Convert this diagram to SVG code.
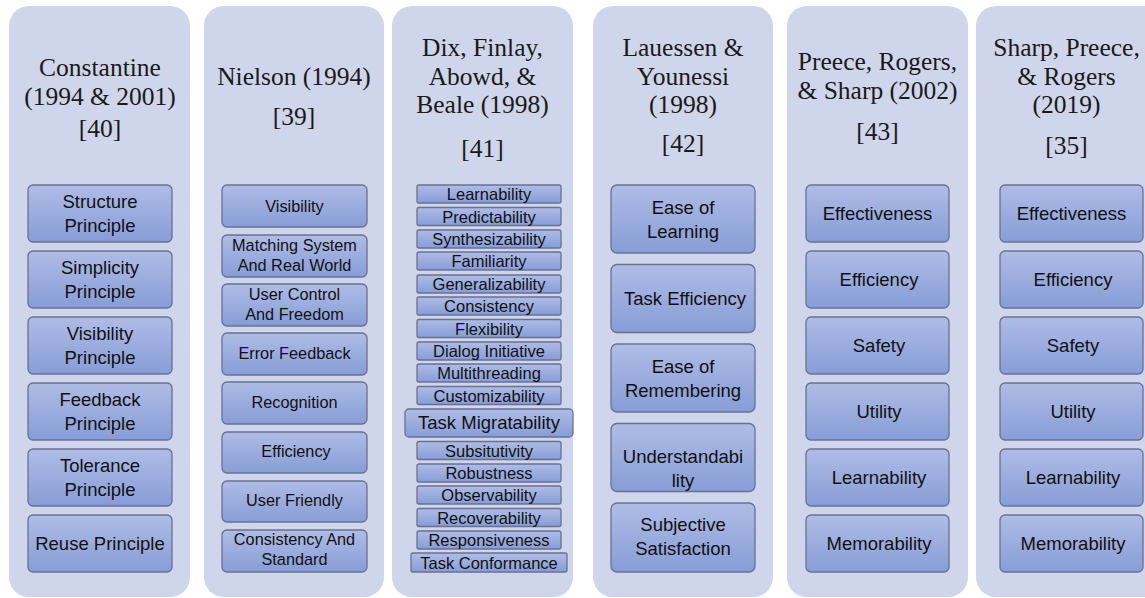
<svg xmlns="http://www.w3.org/2000/svg" width="1145" height="598" viewBox="0 0 1145 598">
<defs>
<linearGradient id="bx" x1="0" y1="0" x2="0" y2="1">
<stop offset="0" stop-color="#afbce5"/>
<stop offset="1" stop-color="#879dd7"/>
</linearGradient>
</defs>
<style>
.col{fill:#cfd5ea;}
.box{fill:url(#bx);stroke:#687192;stroke-width:1.3;}
.t{font-family:"Liberation Serif","DejaVu Serif",serif;font-size:25.5px;fill:#1a1a1a;text-anchor:middle;}
.b{font-family:"Liberation Sans","Noto Sans",sans-serif;font-size:18.5px;fill:#111;text-anchor:middle;}
.m{font-family:"Liberation Sans","Noto Sans",sans-serif;font-size:16.3px;fill:#111;text-anchor:middle;}
.s{font-family:"Liberation Sans","Noto Sans",sans-serif;font-size:16.5px;fill:#111;text-anchor:middle;}
</style>
<rect width="1145" height="598" fill="#ffffff"/>

<g id="col1">
<rect class="col" x="9" y="6" width="181" height="591" rx="20"/>
<text class="t" x="100" y="76">Constantine</text>
<text class="t" x="100" y="105">(1994 &amp; 2001)</text>
<text class="t" x="100" y="137">[40]</text>
<g id="c1n1"><rect class="box" x="28" y="185" width="144" height="57" rx="5"/><text class="b" x="100" y="208">Structure</text><text class="b" x="100" y="232">Principle</text></g>
<g id="c1n2"><rect class="box" x="28" y="251" width="144" height="57" rx="5"/><text class="b" x="100" y="274">Simplicity</text><text class="b" x="100" y="298">Principle</text></g>
<g id="c1n3"><rect class="box" x="28" y="317" width="144" height="57" rx="5"/><text class="b" x="100" y="340">Visibility</text><text class="b" x="100" y="364">Principle</text></g>
<g id="c1n4"><rect class="box" x="28" y="383" width="144" height="57" rx="5"/><text class="b" x="100" y="406">Feedback</text><text class="b" x="100" y="430">Principle</text></g>
<g id="c1n5"><rect class="box" x="28" y="449" width="144" height="57" rx="5"/><text class="b" x="100" y="472">Tolerance</text><text class="b" x="100" y="496">Principle</text></g>
<g id="c1n6"><rect class="box" x="28" y="515" width="144" height="57" rx="5"/><text class="b" x="100" y="550">Reuse Principle</text></g>
</g>

<g id="col2">
<rect class="col" x="204" y="6" width="180" height="591" rx="20"/>
<text class="t" x="294" y="85">Nielson (1994)</text>
<text class="t" x="294" y="125">[39]</text>
<g id="c2n1"><rect class="box" x="222" y="185" width="145" height="42" rx="5"/><text class="m" x="294.5" y="212">Visibility</text></g>
<g id="c2n2"><rect class="box" x="222" y="235" width="145" height="42" rx="5"/><text class="m" x="294.5" y="251">Matching System</text><text class="m" x="294.5" y="271">And Real World</text></g>
<g id="c2n3"><rect class="box" x="222" y="284" width="145" height="42" rx="5"/><text class="m" x="294.5" y="300">User Control</text><text class="m" x="294.5" y="320">And Freedom</text></g>
<g id="c2n4"><rect class="box" x="222" y="333" width="145" height="42" rx="5"/><text class="m" x="294.5" y="359">Error Feedback</text></g>
<g id="c2n5"><rect class="box" x="222" y="382" width="145" height="42" rx="5"/><text class="m" x="294.5" y="408">Recognition</text></g>
<g id="c2n6"><rect class="box" x="222" y="432" width="145" height="41" rx="5"/><text class="m" x="296" y="457">Efficiency</text></g>
<g id="c2n7"><rect class="box" x="222" y="481" width="145" height="41" rx="5"/><text class="m" x="294.5" y="506">User Friendly</text></g>
<g id="c2n8"><rect class="box" x="222" y="530" width="145" height="42" rx="5"/><text class="m" x="294.5" y="545">Consistency And</text><text class="m" x="294.5" y="565">Standard</text></g>
</g>

<g id="col3">
<rect class="col" x="392" y="6" width="181" height="591" rx="20"/>
<text class="t" x="482.5" y="56">Dix, Finlay,</text>
<text class="t" x="482.5" y="85">Abowd, &amp;</text>
<text class="t" x="482.5" y="113">Beale (1998)</text>
<text class="t" x="482.5" y="157">[41]</text>
<g id="c3n1"><rect class="box" x="417" y="185" width="144" height="18" rx="2"/><text class="s" x="489" y="200">Learnability</text></g>
<g id="c3n2"><rect class="box" x="417" y="207.5" width="144" height="18" rx="2"/><text class="s" x="489" y="222.5">Predictability</text></g>
<g id="c3n3"><rect class="box" x="417" y="230" width="144" height="18" rx="2"/><text class="s" x="489" y="245">Synthesizability</text></g>
<g id="c3n4"><rect class="box" x="417" y="252" width="144" height="18" rx="2"/><text class="s" x="489" y="267">Familiarity</text></g>
<g id="c3n5"><rect class="box" x="417" y="275" width="144" height="18" rx="2"/><text class="s" x="489" y="290">Generalizability</text></g>
<g id="c3n6"><rect class="box" x="417" y="297" width="144" height="18" rx="2"/><text class="s" x="489" y="312">Consistency</text></g>
<g id="c3n7"><rect class="box" x="417" y="319.5" width="144" height="18" rx="2"/><text class="s" x="489" y="334.5">Flexibility</text></g>
<g id="c3n8"><rect class="box" x="417" y="342" width="144" height="18" rx="2"/><text class="s" x="489" y="357">Dialog Initiative</text></g>
<g id="c3n9"><rect class="box" x="417" y="364" width="144" height="18" rx="2"/><text class="s" x="489" y="379">Multithreading</text></g>
<g id="c3n10"><rect class="box" x="417" y="386.5" width="144" height="18" rx="2"/><text class="s" x="489" y="401.5">Customizability</text></g>
<g id="c3n11"><rect class="box" x="405" y="409" width="168" height="28" rx="4"/><text class="b" x="489" y="429">Task Migratability</text></g>
<g id="c3n12"><rect class="box" x="417" y="441.5" width="144" height="18" rx="2"/><text class="s" x="489" y="456.5">Subsitutivity</text></g>
<g id="c3n13"><rect class="box" x="417" y="464" width="144" height="18" rx="2"/><text class="s" x="489" y="479">Robustness</text></g>
<g id="c3n14"><rect class="box" x="417" y="486" width="144" height="18" rx="2"/><text class="s" x="489" y="501">Observability</text></g>
<g id="c3n15"><rect class="box" x="417" y="508.5" width="144" height="18" rx="2"/><text class="s" x="489" y="523.5">Recoverability</text></g>
<g id="c3n16"><rect class="box" x="417" y="531" width="144" height="18" rx="2"/><text class="s" x="489" y="546">Responsiveness</text></g>
<g id="c3n17"><rect class="box" x="411" y="553" width="156" height="19" rx="2"/><text class="s" x="489" y="568.5">Task Conformance</text></g>
</g>

<g id="col4">
<rect class="col" x="593" y="6" width="180" height="591" rx="20"/>
<text class="t" x="683" y="56">Lauessen &amp;</text>
<text class="t" x="683" y="85">Younessi</text>
<text class="t" x="683" y="113">(1998)</text>
<text class="t" x="683" y="152">[42]</text>
<g id="c4n1"><rect class="box" x="611" y="185" width="144" height="68" rx="6"/><text class="b" x="683" y="213.5">Ease of</text><text class="b" x="683" y="237.5">Learning</text></g>
<g id="c4n2"><rect class="box" x="611" y="264.5" width="144" height="68" rx="6"/><text class="b" x="685" y="305">Task Efficiency</text></g>
<g id="c4n3"><rect class="box" x="611" y="344" width="144" height="68" rx="6"/><text class="b" x="683" y="372.5">Ease of</text><text class="b" x="683" y="396.5">Remembering</text></g>
<g id="c4n4"><rect class="box" x="611" y="423.5" width="144" height="68" rx="6"/><text class="b" x="683" y="463">Understandabi</text><text class="b" x="683" y="487">lity</text></g>
<g id="c4n5"><rect class="box" x="611" y="503" width="144" height="69" rx="6"/><text class="b" x="683" y="531">Subjective</text><text class="b" x="683" y="555">Satisfaction</text></g>
</g>

<g id="col5">
<rect class="col" x="787" y="6" width="181" height="591" rx="20"/>
<text class="t" x="877.5" y="70">Preece, Rogers,</text>
<text class="t" x="877.5" y="99">&amp; Sharp (2002)</text>
<text class="t" x="877.5" y="140">[43]</text>
<g id="c5n1"><rect class="box" x="806" y="185" width="143" height="57" rx="5"/><text class="b" x="877.5" y="220">Effectiveness</text></g>
<g id="c5n2"><rect class="box" x="806" y="251" width="143" height="57" rx="5"/><text class="b" x="879" y="286">Efficiency</text></g>
<g id="c5n3"><rect class="box" x="806" y="317" width="143" height="57" rx="5"/><text class="b" x="879" y="352">Safety</text></g>
<g id="c5n4"><rect class="box" x="806" y="383" width="143" height="57" rx="5"/><text class="b" x="879" y="418">Utility</text></g>
<g id="c5n5"><rect class="box" x="806" y="449" width="143" height="57" rx="5"/><text class="b" x="879" y="484">Learnability</text></g>
<g id="c5n6"><rect class="box" x="806" y="515" width="143" height="57" rx="5"/><text class="b" x="879" y="550">Memorability</text></g>
</g>

<g id="col6">
<rect class="col" x="976" y="6" width="190" height="591" rx="20"/>
<text class="t" x="1066.5" y="56">Sharp, Preece,</text>
<text class="t" x="1066.5" y="85">&amp; Rogers</text>
<text class="t" x="1066.5" y="113">(2019)</text>
<text class="t" x="1066.5" y="154">[35]</text>
<g id="c6n1"><rect class="box" x="1000" y="185" width="143" height="57" rx="5"/><text class="b" x="1071.5" y="220">Effectiveness</text></g>
<g id="c6n2"><rect class="box" x="1000" y="251" width="143" height="57" rx="5"/><text class="b" x="1073" y="286">Efficiency</text></g>
<g id="c6n3"><rect class="box" x="1000" y="317" width="143" height="57" rx="5"/><text class="b" x="1073" y="352">Safety</text></g>
<g id="c6n4"><rect class="box" x="1000" y="383" width="143" height="57" rx="5"/><text class="b" x="1073" y="418">Utility</text></g>
<g id="c6n5"><rect class="box" x="1000" y="449" width="143" height="57" rx="5"/><text class="b" x="1073" y="484">Learnability</text></g>
<g id="c6n6"><rect class="box" x="1000" y="515" width="143" height="57" rx="5"/><text class="b" x="1073" y="550">Memorability</text></g>
</g>

<g id="connectors"></g>
</svg>
